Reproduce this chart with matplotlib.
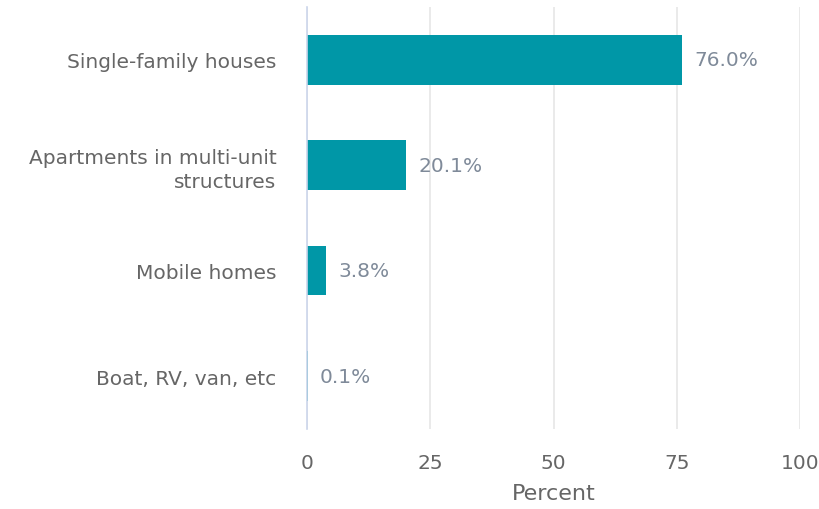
import matplotlib
matplotlib.use("Agg")
import matplotlib.pyplot as plt

categories = ["Single-family houses", "Apartments in multi-unit\nstructures",
              "Mobile homes", "Boat, RV, van, etc"]
values = [76.0, 20.1, 3.8, 0.1]
xticks = [0, 25, 50, 75, 100]

plt.rcParams['font.family'] = ['DejaVu Sans']

fig = plt.figure(figsize=(8.2, 5.1), dpi=100)
ax = fig.add_axes([0.3744, 0.157, 0.6012, 0.8273])

ypos = list(range(len(categories)))
ax.barh(ypos, values, height=0.47, color='#0097a7', zorder=3)
for y, v in zip(ypos, values):
    ax.annotate(f"{v:.1f}%", (v, y), xytext=(9, 0), textcoords='offset points',
                va='center', ha='left', fontsize=14.5, color='#7f8a99')

ax.set_xlim(0, 100)
ax.set_ylim(len(categories) - 0.5, -0.5)
ax.set_yticks(ypos)
ax.set_yticklabels(categories, fontsize=14.5, color='#666666', ha='right', linespacing=1.3)
ax.set_xticks(xticks)
ax.set_xticklabels([str(t) for t in xticks], fontsize=14.5, color='#666666')
ax.tick_params(axis='y', length=0, pad=22)
ax.tick_params(axis='x', length=0, pad=17)
ax.xaxis.grid(True, color='#e6e6e6', linewidth=1.2, zorder=0)
for side in ['top', 'right', 'bottom']:
    ax.spines[side].set_visible(False)
ax.spines['left'].set_color('#ccd6eb')
ax.spines['left'].set_linewidth(1.2)
ax.spines['left'].set_zorder(4)
ax.set_xlabel("Percent", fontsize=16, color='#666666', labelpad=8)

fig.savefig("out.png", dpi=100)
